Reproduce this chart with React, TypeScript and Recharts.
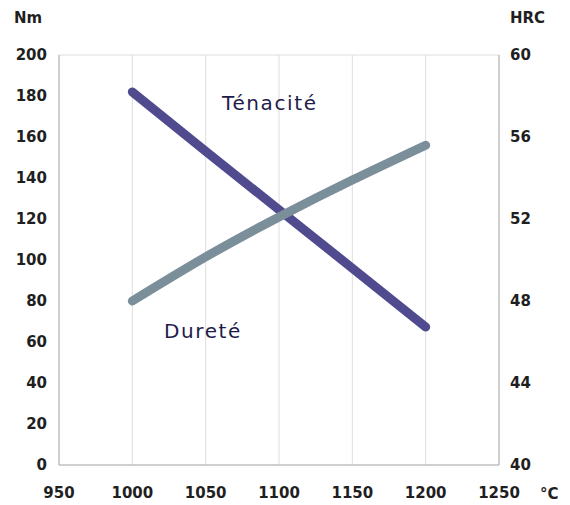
import React from "react";
import {
  LineChart,
  Line,
  XAxis,
  YAxis,
  CartesianGrid,
} from "recharts";

const temperatures = [1000, 1050, 1100, 1150, 1200];
const tenacite = [182, 153, 124.5, 96, 67.3];
const durete = [48, 50.15, 52.1, 53.9, 55.6];

const xTicks = [950, 1000, 1050, 1100, 1150, 1200, 1250];
const nmTicks = [0, 20, 40, 60, 80, 100, 120, 140, 160, 180, 200];
const hrcTicks = [40, 44, 48, 52, 56, 60];

const data = temperatures.map((t, i) => ({
  temp: t,
  tenacite: tenacite[i],
  durete: durete[i],
}));

const tickFont = {
  fontSize: 15,
  fontWeight: 700,
  fill: "#1f1f1f",
  fontFamily: "DejaVu Sans",
};
const axisColor = "#b0b0b0";

export default function App() {
  return (
    <div style={{ position: "absolute", left: 0, top: 0, width: 570, height: 505, background: "#fff" }}>
      <LineChart
        width={570}
        height={505}
        data={data}
        margin={{ top: 55, right: 0, bottom: 0, left: 0 }}
      >
        <CartesianGrid stroke="#dedede" vertical horizontal />
        <XAxis
          dataKey="temp"
          type="number"
          domain={[950, 1250]}
          ticks={xTicks}
          height={40}
          tickSize={0}
          tickMargin={22}
          tick={tickFont}
          stroke={axisColor}
          interval={0}
        />
        <YAxis
          yAxisId="nm"
          domain={[0, 200]}
          ticks={nmTicks}
          width={59}
          tickSize={0}
          tickMargin={12}
          tick={tickFont}
          stroke={axisColor}
          interval={0}
        />
        <YAxis
          yAxisId="hrc"
          orientation="right"
          domain={[40, 60]}
          ticks={hrcTicks}
          width={71}
          tickSize={0}
          tickMargin={11}
          tick={{ ...tickFont, textAnchor: "start" }}
          stroke={axisColor}
          interval={0}
        />
        <Line
          yAxisId="nm"
          type="linear"
          dataKey="tenacite"
          stroke="#4f4b8e"
          strokeWidth={9}
          strokeLinecap="round"
          dot={false}
          activeDot={false}
          isAnimationActive={false}
        />
        <Line
          yAxisId="hrc"
          type="natural"
          dataKey="durete"
          stroke="#7b8f9a"
          strokeWidth={9}
          strokeLinecap="round"
          dot={false}
          activeDot={false}
          isAnimationActive={false}
        />
      </LineChart>
      <svg
        width={570}
        height={505}
        style={{ position: "absolute", left: 0, top: 0, pointerEvents: "none" }}
      >
        <g fontFamily="DejaVu Sans" fontWeight={700} fontSize={15} fill="#1f1f1f">
          <text x={14} y={23}>Nm</text>
          <text x={510} y={23}>HRC</text>
          <text x={540} y={499}>°C</text>
        </g>
        <g fontFamily="DejaVu Sans" fontSize={20} fill="#1d1b4a" letterSpacing={1.6}>
          <text x={222} y={110}>Ténacité</text>
          <text x={164} y={338}>Dureté</text>
        </g>
      </svg>
    </div>
  );
}
